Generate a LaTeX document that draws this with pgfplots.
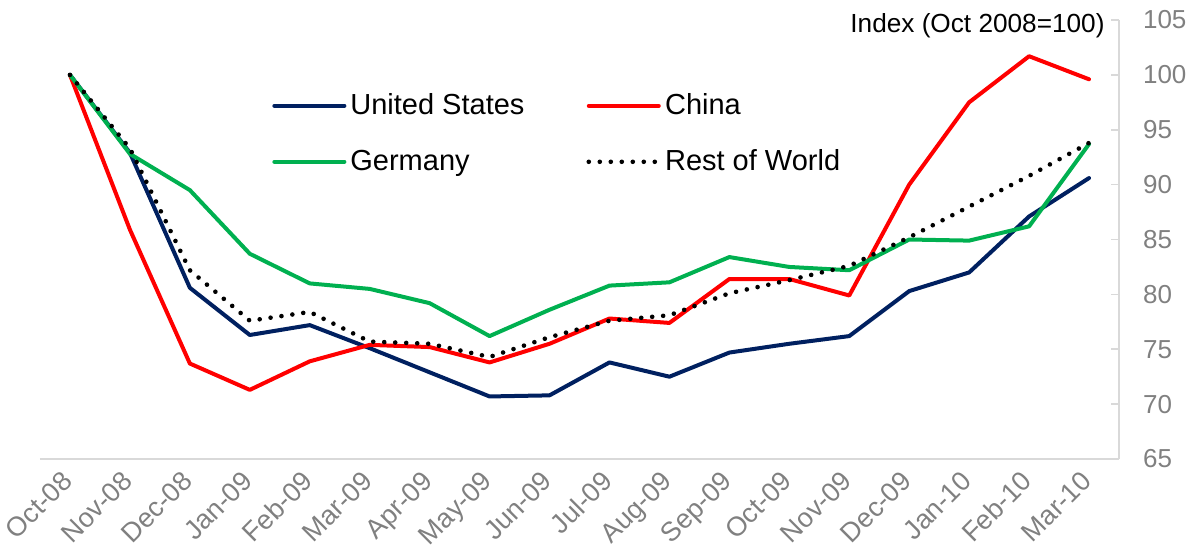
\documentclass[border=0pt]{standalone}
\usepackage{pgfplots}
\pgfplotsset{compat=1.18}
\usepackage{fontspec}
\setmainfont{Liberation Sans}
\definecolor{usnavy}{HTML}{002060}
\definecolor{cnred}{HTML}{FF0000}
\definecolor{degreen}{HTML}{00B050}
\definecolor{axgrey}{HTML}{D9D9D9}
\definecolor{lblgrey}{HTML}{808080}
\begin{document}
\begin{tikzpicture}
\begin{axis}[
  at={(0,0)}, anchor=south west,
  width=539.5pt, height=219.5pt, scale only axis,
  xmin=-0.5, xmax=17.5, ymin=65, ymax=105,
  clip=false,
  axis x line*=bottom, axis y line*=right,
  axis line style={axgrey, line width=0.8pt},
  ytick={65,70,...,105},
  xtick={0,...,17},
  xticklabels={Oct-08,Nov-08,Dec-08,Jan-09,Feb-09,Mar-09,Apr-09,May-09,Jun-09,Jul-09,Aug-09,Sep-09,Oct-09,Nov-09,Dec-09,Jan-10,Feb-10,Mar-10},
  minor xtick={-0.5,0.5,...,17.5},
  tick align=inside,
  major tick length=4pt, minor tick length=4pt,
  xtick style={draw=none},
  minor x tick style={axgrey, line width=0.8pt},
  y tick style={axgrey, line width=0.8pt},
  /pgf/number format/assume math mode=true,
  ticklabel style={font=\fontsize{13}{15}\selectfont, text=lblgrey},
  yticklabel style={anchor=west, xshift=8.5pt},
  xticklabel style={rotate=45, anchor=north east, inner sep=1pt, font=\fontsize{13.5}{15}\selectfont, xshift=-5.8pt, yshift=0.8pt},
  legend columns=2,
  legend style={draw=none, fill=none, at={(rel axis cs:0.215,0.842)}, anchor=north west,
    font=\fontsize{14.5}{17}\selectfont, /tikz/every even column/.append style={column sep=29pt},
    row sep=12pt, inner sep=0pt},
  legend cell align=left,
  legend image code/.code={\draw[#1] (0pt,0pt) -- (35pt,0pt);},
  every axis plot/.append style={line width=2pt, line join=round, line cap=round},
]
\addplot[usnavy] coordinates {(0,100)(1,92.9)(2,80.6)(3,76.3)(4,77.2)(5,75.1)(6,72.9)(7,70.7)(8,70.8)(9,73.8)(10,72.5)(11,74.7)(12,75.5)(13,76.2)(14,80.3)(15,82.0)(16,87.1)(17,90.6)};
\addlegendentry{United States}
\addplot[cnred] coordinates {(0,100)(1,85.9)(2,73.7)(3,71.3)(4,73.9)(5,75.4)(6,75.2)(7,73.8)(8,75.5)(9,77.8)(10,77.4)(11,81.4)(12,81.4)(13,79.9)(14,90.0)(15,97.5)(16,101.7)(17,99.6)};
\addlegendentry{China}
\addplot[degreen] coordinates {(0,100)(1,92.8)(2,89.5)(3,83.7)(4,81.0)(5,80.5)(6,79.2)(7,76.2)(8,78.6)(9,80.8)(10,81.1)(11,83.4)(12,82.5)(13,82.2)(14,85.0)(15,84.9)(16,86.2)(17,93.7)};
\addlegendentry{Germany}
\addplot[black, line width=2.3pt, dash pattern=on 0pt off 5.5pt] coordinates {(0,100)(1,93.3)(2,82.2)(3,77.6)(4,78.4)(5,75.7)(6,75.5)(7,74.3)(8,76.1)(9,77.6)(10,78.1)(11,80.1)(12,81.3)(13,82.6)(14,85.2)(15,88.0)(16,90.8)(17,93.8)};
\addlegendentry{Rest of World}
\node[anchor=east, font=\fontsize{13.1}{15}\selectfont, inner sep=0pt] at (rel axis cs:0.987,0.987) {Index (Oct 2008=100)};
\end{axis}
\pgfresetboundingbox
\useasboundingbox (-20pt,-47.5pt) rectangle (573.5pt,229.5pt);
\end{tikzpicture}
\end{document}
